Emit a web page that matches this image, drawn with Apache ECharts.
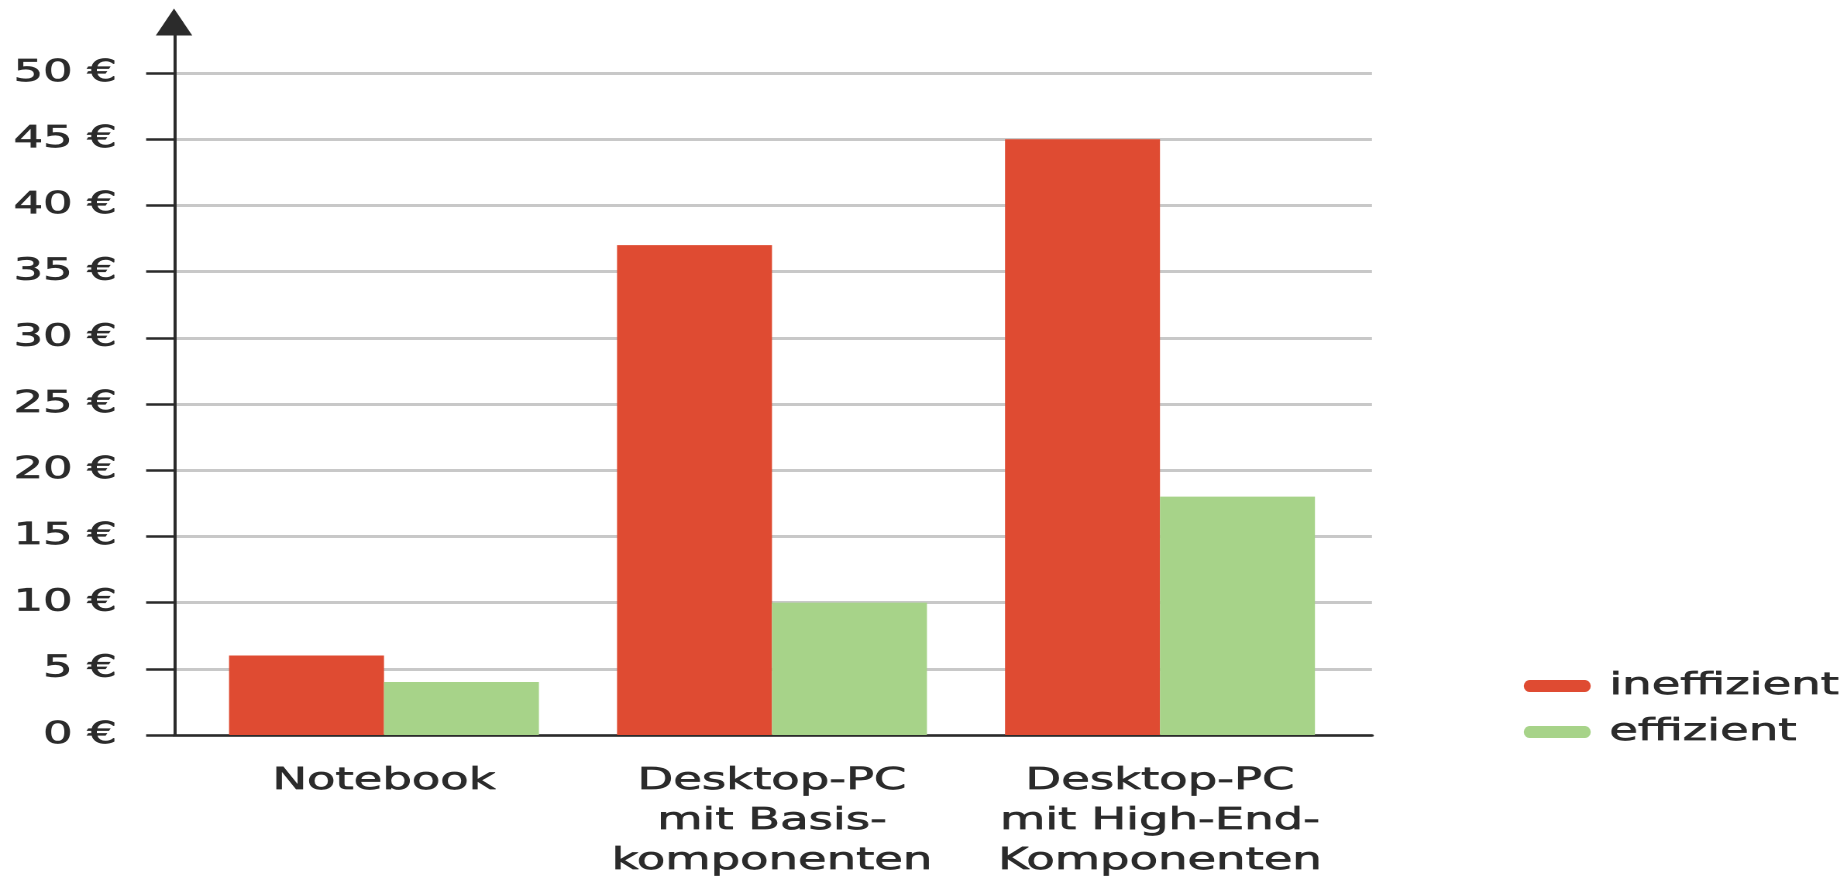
<!DOCTYPE html>
<html>
<head>
<meta charset="utf-8">
<script src="https://cdn.jsdelivr.net/npm/echarts@6/dist/echarts.min.js"></script>
<style>
html,body{margin:0;padding:0;background:#fff;overflow:hidden;width:1847px;height:880px;}
#chart{position:absolute;left:0;top:0;width:1192px;height:880px;transform:scaleX(1.5495);transform-origin:0 0;}
</style>
</head>
<body>
<div id="chart"></div>
<script>
const categories = ['Notebook', 'Desktop-PC\nmit Basis-\nkomponenten', 'Desktop-PC\nmit High-End-\nKomponenten'];
const seriesNames = ['ineffizient', 'effizient'];
const ineffizient = [6, 37, 45];
const effizient = [4, 10, 18];
const yMin = 0, yMax = 50, yStep = 5;
const currency = '€';

const RED = '#df4b32', GREEN = '#a7d389', INK = '#2b2b2b', GRID = '#c8c8c8';
const FONT = 'DejaVu Sans';
const TXT = {color: INK, fontSize: 30, fontFamily: FONT, textBorderColor: INK, textBorderWidth: 0.7};

const chart = echarts.init(document.getElementById('chart'), null, {devicePixelRatio: 2});
chart.setOption({
  animation: false,
  backgroundColor: '#fff',
  textStyle: {fontFamily: FONT},
  grid: [
    {left: 112.3, right: 306.6, top: 73, bottom: 145, containLabel: false, outerBoundsMode: 'none'},
    {left: 122.6, right: 318.2, top: 73, bottom: 145, containLabel: false, outerBoundsMode: 'none'},
    {left: 112.3, right: 306.6, top: 22, bottom: 145, containLabel: false, outerBoundsMode: 'none'}
  ],
  xAxis: [
    {gridIndex: 0, type: 'value', min: 0, max: 1,
     axisLine: {show: true, onZero: false, lineStyle: {color: INK, width: 2.5}},
     axisTick: {show: false}, axisLabel: {show: false}, splitLine: {show: false}},
    {gridIndex: 1, type: 'category', data: categories,
     axisLine: {show: false}, axisTick: {show: false}, splitLine: {show: false},
     axisLabel: Object.assign({show: true, interval: 0, margin: 26, lineHeight: 40,
                 align: 'center', verticalAlign: 'top'}, TXT)},
    {gridIndex: 2, type: 'value', show: false, min: 0, max: 1}
  ],
  yAxis: [
    {gridIndex: 0, type: 'value', min: yMin, max: yMax, interval: yStep,
     axisLine: {show: false},
     axisTick: {show: true, inside: false, length: 18, lineStyle: {color: INK, width: 2.5}},
     axisLabel: Object.assign({show: true, margin: 36.8, formatter: v => v + ' ' + currency}, TXT),
     splitLine: {show: true, lineStyle: {color: GRID, width: 3}}},
    {gridIndex: 1, type: 'value', min: yMin, max: yMax, show: false},
    {gridIndex: 2, type: 'value', min: 0, max: 1,
     axisLine: {show: true, symbol: ['none', 'triangle'], symbolSize: [23.5, 27],
                lineStyle: {color: INK, width: 2}},
     axisTick: {show: false}, axisLabel: {show: false}, splitLine: {show: false}}
  ],
  legend: {
    orient: 'vertical', left: 978.4, top: 663,
    itemWidth: 43.2, itemHeight: 12, itemGap: 10,
    icon: 'path://M3.9,0 L39.3,0 A3.9,6 0 0 1 39.3,12 L3.9,12 A3.9,6 0 0 1 3.9,0 Z',
    textStyle: Object.assign({lineHeight: 36, padding: [0, 0, 0, 7]}, TXT),
    data: seriesNames
  },
  series: [
    {name: seriesNames[0], type: 'bar', xAxisIndex: 1, yAxisIndex: 1, data: ineffizient,
     barWidth: 100, barGap: '0%', itemStyle: {color: RED}},
    {name: seriesNames[1], type: 'bar', xAxisIndex: 1, yAxisIndex: 1, data: effizient,
     barWidth: 100, barGap: '0%', itemStyle: {color: GREEN}}
  ]
});
</script>
</body>
</html>
